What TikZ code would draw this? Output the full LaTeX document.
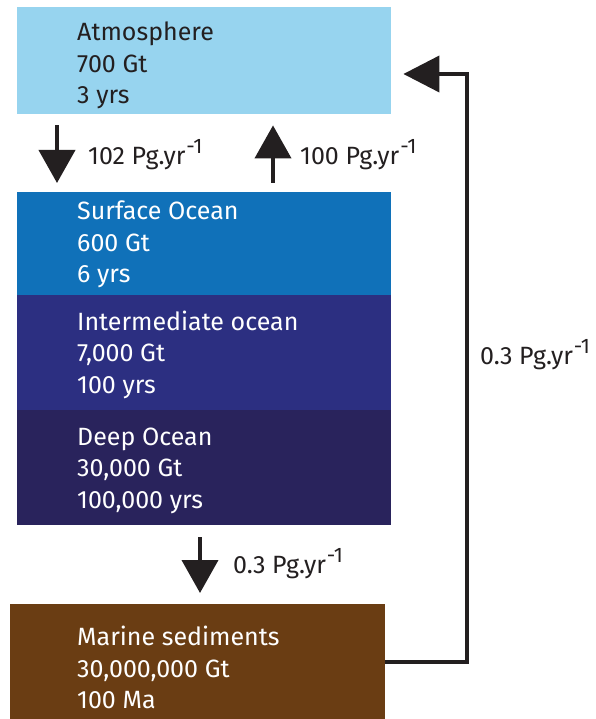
\documentclass[tikz,border=0pt]{standalone}
\usepackage{fontspec}
\setmainfont{Fira Sans}
\usetikzlibrary{arrows.meta}
\definecolor{atmc}{HTML}{97D4EF}
\definecolor{surfc}{HTML}{1071B9}
\definecolor{interc}{HTML}{2C2F81}
\definecolor{deepc}{HTML}{29235C}
\definecolor{sedc}{HTML}{6A3D13}
\definecolor{ink}{HTML}{231F20}
\newcommand{\pgyr}[1]{#1 Pg.yr\kern1pt\raisebox{0.45em}{\fontsize{21}{21}\selectfont -1}}
\begin{document}
\begin{tikzpicture}[x=1pt,y=-1pt,
  box/.style={rectangle, anchor=north west, minimum width=374pt, inner sep=0pt},
  boxtext/.style={anchor=west, inner sep=0pt, align=left, font=\fontsize{25}{31.5}\selectfont},
  flow/.style={draw=ink, line width=4pt, -{Triangle[width=36pt,length=33pt]}},
  lbl/.style={anchor=west, inner sep=0pt, text=ink, font=\fontsize{25}{26}\selectfont}]
\useasboundingbox (0,0) rectangle (595,719);
\node[box, fill=atmc, minimum height=107pt] (atm) at (17,7) {};
\node[box, fill=surfc, minimum height=103pt] (surf) at (17,192) {};
\node[box, fill=interc, minimum height=115pt] (inter) at (17,295) {};
\node[box, fill=deepc, minimum height=115pt] (deep) at (17,410) {};
\node[box, fill=sedc, minimum height=115pt, minimum width=375pt] (sed) at (10,604) {};
\node[boxtext, text=ink] (atmt) at ([xshift=60pt,yshift=-5pt]atm.west) {Atmosphere\\700 Gt\\3 yrs};
\node[boxtext, text=white] (surft) at ([xshift=60pt,yshift=-1pt]surf.west) {Surface Ocean\\600 Gt\\6 yrs};
\node[boxtext, text=white] (intert) at ([xshift=60pt,yshift=-2pt]inter.west) {Intermediate ocean\\7,000 Gt\\100 yrs};
\node[boxtext, text=white] (deept) at ([xshift=60pt,yshift=-3pt]deep.west) {Deep Ocean\\30,000 Gt\\100,000 yrs};
\node[boxtext, text=white] (sedt) at ([xshift=67pt,yshift=-6pt]sed.west) {Marine sediments\\30,000,000 Gt\\100 Ma};
% arrows between atmosphere and surface ocean
\draw[flow, shorten <=11pt, shorten >=9pt] ([xshift=40pt]atm.south west) -- ([xshift=40pt]surf.north west);
\draw[flow, shorten <=9pt, shorten >=11pt] ([xshift=256pt]surf.north west) -- ([xshift=256pt]atm.south west);
\node[lbl] (l1) at (88,155) {\pgyr{102}};
\node[lbl] (l2) at (300,155) {\pgyr{100}};
% deep ocean to sediments
\draw[flow, shorten <=12pt, shorten >=11pt] ([xshift=183pt]deep.south west) -- ([xshift=183pt]deep.south west |- sed.north);
\node[lbl] (l3) at (233,564) {\pgyr{0.3}};
% return path
\coordinate (ret) at (467,74);
\draw[flow, -{Triangle[width=36pt,length=36pt]}, shorten >=12pt] (sed.east) -| (ret) -- (atm.east |- ret);
\node[lbl] (l4) at (480,355) {\pgyr{0.3}};
\end{tikzpicture}
\end{document}
